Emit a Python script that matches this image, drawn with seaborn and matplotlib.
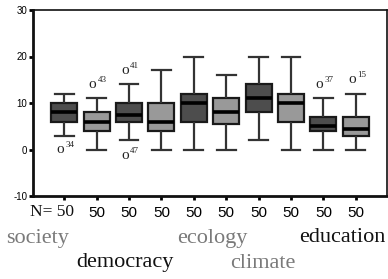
import numpy as np
import pandas as pd
import matplotlib
matplotlib.use("Agg")
import matplotlib.pyplot as plt
import seaborn as sns

# ---- data ----
boxes = ["b1", "b2", "b3", "b4", "b5", "b6", "b7", "b8", "b9", "b10"]
whisker_low = [3, 0, 2, 0, 0, 0, 2, 0, 0, 0]
q1 = [6, 4, 6, 4, 6, 5.5, 8, 6, 4, 3]
median = [8, 6, 7.5, 6, 10, 8, 11, 10, 5, 4.5]
q3 = [10, 8, 10, 10, 12, 11, 14, 12, 7, 7]
whisker_high = [12, 11, 14, 17, 20, 16, 20, 20, 11, 12]
n_labels = ["50"] * 10

outlier_box = [0, 1, 2, 2, 8, 9]
outlier_val = [0, 14, 17, -1.3, 14, 15]
outlier_id = ["34", "43", "41", "47", "37", "15"]

topics = ["society", "democracy", "ecology", "climate", "education"]
topic_colors = ["#7a7a7a", "#111111", "#7a7a7a", "#7a7a7a", "#111111"]
topic_x = [38, 125, 212, 263, 342]
topic_y = [238, 263, 238, 263, 238]

box_colors = ["#4d4d4d", "#999999"] * 5

SERIF = ["Liberation Serif", "DejaVu Serif"]

rows = []
for i, b in enumerate(boxes):
    for v in (whisker_low[i], q1[i], median[i], q3[i], whisker_high[i]):
        rows.append({"box": b, "value": v})
df = pd.DataFrame(rows)

W, H = 388, 279
fig = plt.figure(figsize=(W / 100, H / 100), dpi=100)
ax = fig.add_axes([33 / W, 1 - 196 / H, (387 - 33) / W, (196 - 10) / H])

sns.boxplot(data=df, x="box", y="value", hue="box", palette=box_colors,
            order=boxes, hue_order=boxes, legend=False, whis=(0, 100),
            width=0.8, dodge=False, ax=ax, showfliers=False,
            linewidth=1.6, linecolor="#1a1a1a",
            medianprops=dict(color="#000000", linewidth=2.6),
            whiskerprops=dict(color="#333333", linewidth=1.6),
            capprops=dict(color="#333333", linewidth=1.6))

for line in ax.lines:
    xd = np.asarray(line.get_xdata(), dtype=float)
    yd = np.asarray(line.get_ydata(), dtype=float)
    if len(xd) == 2 and yd[0] == yd[1] and abs(xd[1] - xd[0]) > 0:
        c = xd.mean()
        if abs(xd[1] - xd[0]) < 0.79:
            line.set_xdata([c - 0.29, c + 0.29])

for b, v, lab in zip(outlier_box, outlier_val, outlier_id):
    ax.text(b - 0.12, v, "o", ha="center", va="center", fontsize=11,
            family=SERIF, color="#222222")
    ax.text(b + 0.03, v + 1.0, lab, ha="left", va="center", fontsize=6.5,
            family=SERIF, color="#222222")

ax.set_xlim(-0.96, 9.96)
ax.set_ylim(-10, 30)
ax.set_yticks([-10, 0, 10, 20, 30])
ax.set_yticklabels(["-10", "0", "10", "20", "30"], fontsize=7,
                   family="Liberation Sans")
ax.set_xticks(range(10))
ax.set_xticklabels([""] + n_labels[1:], fontsize=11, family="Liberation Sans")
ax.tick_params(axis="y", length=3, width=2, pad=1, direction="out")
ax.tick_params(axis="x", length=3, width=2, pad=4, direction="out")
ax.set_xlabel("")
ax.set_ylabel("")
for s in ax.spines.values():
    s.set_color("#111111")
    s.set_linewidth(1.2)
ax.spines["left"].set_linewidth(2)
ax.spines["bottom"].set_linewidth(2)

fig.text(74 / W, 1 - 212 / H, "N= " + n_labels[0], ha="right", va="center",
         fontsize=12.5, family=SERIF, color="#111111")

for t, c, x, y in zip(topics, topic_colors, topic_x, topic_y):
    fig.text(x / W, 1 - y / H, t, ha="center", va="center", fontsize=16,
             family=SERIF, color=c)

fig.savefig("out.png", dpi=100)
